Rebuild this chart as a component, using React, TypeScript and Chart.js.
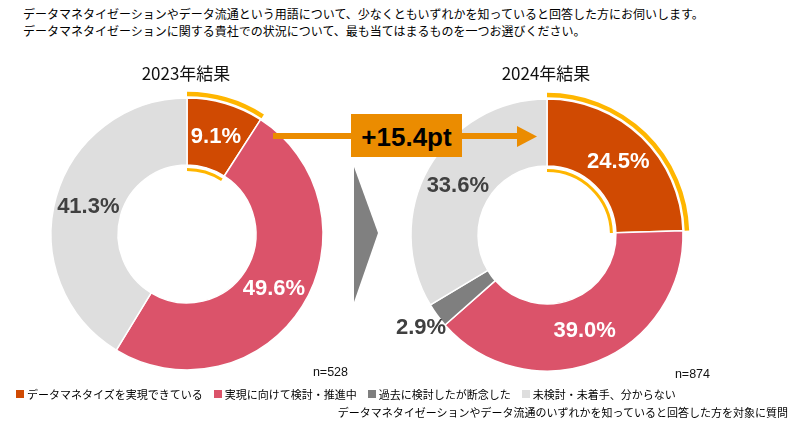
import React, { useEffect, useRef } from 'react';
import { Chart, registerables } from 'chart.js';

Chart.register(...registerables);

const categories = [
  'データマネタイズを実現できている',
  '実現に向けて検討・推進中',
  '過去に検討したが断念した',
  '未検討・未着手、分からない',
];
const segmentColors = ['#D04A02', '#DB536A', '#7F7F7F', '#DEDEDE'];
const labelColors = ['#FFFFFF', '#FFFFFF', '#404040', '#404040'];
const values2023 = [9.1, 49.6, 0, 41.3];
const values2024 = [24.5, 39.0, 2.9, 33.6];
const titles = ['2023年結果', '2024年結果'];
const sampleSizes = ['n=528', 'n=874'];
const highlightIndex = 0;
const headerLines = [
  'データマネタイゼーションやデータ流通という用語について、少なくともいずれかを知っていると回答した方にお伺いします。',
  'データマネタイゼーションに関する貴社での状況について、最も当てはまるものを一つお選びください。',
];
const footnote = 'データマネタイゼーションやデータ流通のいずれかを知っていると回答した方を対象に質問';

const JP = '"Noto Sans CJK JP", "Noto Sans", sans-serif';
const LAT = '"Liberation Sans", Arial, sans-serif';

const CANVAS = 340;
const RADIUS = 136;

const donutDecor = {
  id: 'donutDecor',
  afterDatasetsDraw(chart: any) {
    const ctx = chart.ctx;
    const meta = chart.getDatasetMeta(0);
    const data = chart.data.datasets[0].data as number[];
    const props = ['x', 'y', 'startAngle', 'endAngle', 'outerRadius', 'innerRadius'];
    ctx.save();
    // highlight arcs
    const hl = meta.data[highlightIndex].getProps(props, true);
    ctx.strokeStyle = '#FFB600';
    ctx.lineCap = 'butt';
    ctx.lineWidth = 4.5;
    ctx.beginPath();
    ctx.arc(hl.x, hl.y, hl.outerRadius + 4, hl.startAngle, hl.endAngle);
    ctx.stroke();
    ctx.lineWidth = 3;
    ctx.beginPath();
    ctx.arc(hl.x, hl.y, hl.innerRadius - 4.5, hl.startAngle, hl.endAngle);
    ctx.stroke();
    // value labels
    ctx.font = `bold 22px ${LAT}`;
    ctx.textAlign = 'center';
    ctx.textBaseline = 'middle';
    meta.data.forEach((el: any, i: number) => {
      const v = data[i];
      if (!v) return;
      const q = el.getProps(props, true);
      const mid = (q.startAngle + q.endAngle) / 2;
      const outside = v < 5;
      const r = outside ? q.outerRadius + 20 : (q.outerRadius + q.innerRadius) / 2;
      ctx.fillStyle = outside ? '#404040' : labelColors[i];
      ctx.fillText(v.toFixed(1) + '%', q.x + r * Math.cos(mid), q.y + r * Math.sin(mid) + 1);
    });
    ctx.restore();
  },
};

function Donut({ values, cx, cy }: { values: number[]; cx: number; cy: number }) {
  const ref = useRef<HTMLCanvasElement>(null);
  useEffect(() => {
    const chart = new Chart(ref.current!, {
      type: 'doughnut',
      data: {
        labels: categories,
        datasets: [
          {
            data: values,
            backgroundColor: segmentColors,
            borderColor: '#FFFFFF',
            borderWidth: 1.5,
          },
        ],
      },
      options: {
        responsive: false,
        animation: false,
        radius: RADIUS,
        cutout: '50.7%',
        layout: { padding: 0 },
        plugins: { legend: { display: false }, tooltip: { enabled: false } },
      } as any,
      plugins: [donutDecor],
    });
    return () => chart.destroy();
  }, [values]);
  return (
    <canvas
      ref={ref}
      width={CANVAS}
      height={CANVAS}
      style={{ position: 'absolute', left: cx - CANVAS / 2, top: cy - CANVAS / 2, width: CANVAS, height: CANVAS }}
    />
  );
}

export default function App() {
  const delta = (values2024[highlightIndex] - values2023[highlightIndex]).toFixed(1);
  return (
    <div style={{ position: 'absolute', left: 0, top: 0, width: 811, height: 421, background: '#fff', overflow: 'hidden', color: '#000' }}>
      <div style={{ position: 'absolute', left: 23, top: 5, fontFamily: JP, fontSize: 12, lineHeight: '17px', whiteSpace: 'nowrap' }}>
        {headerLines.map((l, i) => (
          <div key={i}>{l}</div>
        ))}
      </div>
      <Donut values={values2023} cx={187} cy={234} />
      <Donut values={values2024} cx={547} cy={235} />
      {titles.map((t, i) => (
        <div
          key={t}
          style={{ position: 'absolute', left: (i === 0 ? 186 : 546) - 100, top: 61, width: 200, textAlign: 'center', fontFamily: JP, fontSize: 17, lineHeight: '24px', color: '#111' }}
        >
          {t}
        </div>
      ))}
      {sampleSizes.map((t, i) => (
        <div
          key={t}
          style={{ position: 'absolute', left: (i === 0 ? 348 : 710) - 100, top: (i === 0 ? 372 : 374) - 8, width: 100, textAlign: 'right', fontFamily: LAT, fontSize: 12.5, lineHeight: '16px', color: '#111' }}
        >
          {t}
        </div>
      ))}
      <svg width={811} height={421} style={{ position: 'absolute', left: 0, top: 0, pointerEvents: 'none' }}>
        <polygon points="354,167 378,233 354,302" fill="#808080" />
        <rect x={273} y={133} width={246} height={6} fill="#EB8C00" />
        <polygon points="517,126 537,136.5 517,147" fill="#EB8C00" />
        <rect x={351} y={114} width={111} height={43} fill="#EB8C00" />
        <text x={406.5} y={137} textAnchor="middle" dominantBaseline="central" fontFamily={LAT} fontWeight="bold" fontSize={26} fill="#000">
          {'+' + delta + 'pt'}
        </text>
      </svg>
      <div style={{ position: 'absolute', left: 16, top: 386, display: 'flex', gap: 11, fontFamily: JP, fontSize: 11, lineHeight: '16px', whiteSpace: 'nowrap' }}>
        {categories.map((c, i) => (
          <div key={c} style={{ display: 'flex', alignItems: 'center' }}>
            <span style={{ display: 'inline-block', width: 8, height: 8, background: segmentColors[i], marginRight: 3 }} />
            <span>{c}</span>
          </div>
        ))}
      </div>
      <div style={{ position: 'absolute', left: 288, top: 404, width: 500, textAlign: 'right', fontFamily: JP, fontSize: 11, lineHeight: '16px', whiteSpace: 'nowrap' }}>
        {footnote}
      </div>
    </div>
  );
}
